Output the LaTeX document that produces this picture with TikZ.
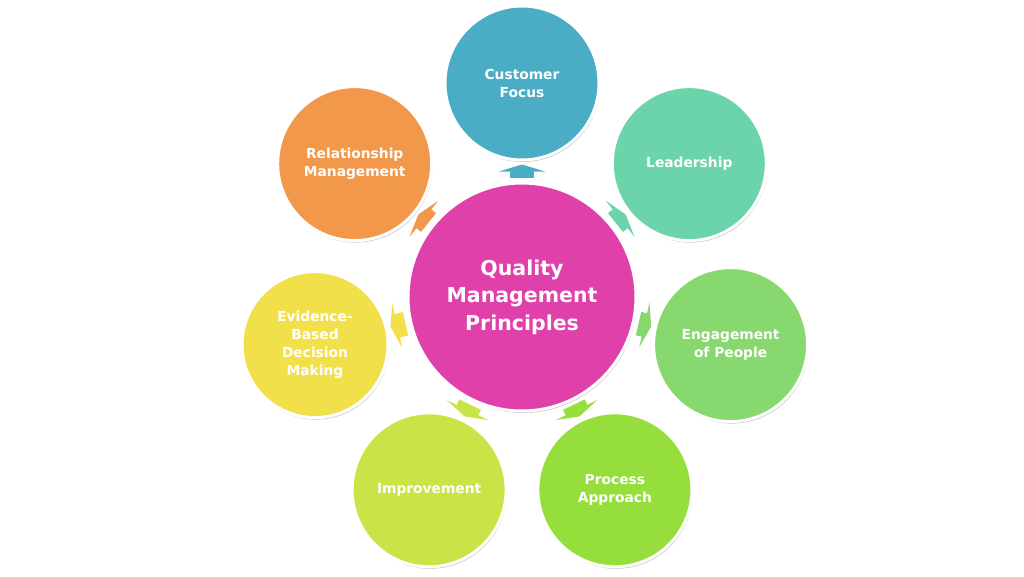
\documentclass[tikz,border=0pt]{standalone}
\usepackage{fontspec}
\setmainfont{DejaVu Sans}
\usetikzlibrary{arrows.meta,shadows}
\definecolor{cCenter}{HTML}{E040AA}
\definecolor{cCust}{HTML}{4BACC6}
\definecolor{cLead}{HTML}{6CD4AA}
\definecolor{cEng}{HTML}{87D86E}
\definecolor{cProc}{HTML}{96DE3C}
\definecolor{cImp}{HTML}{C8E446}
\definecolor{cEvid}{HTML}{F2E04B}
\definecolor{cRel}{HTML}{F2984A}
\tikzset{
  bubble/.style={circle, draw=white, line width=3pt, inner sep=0pt, minimum size=154pt,
    text=white, align=center, font=\bfseries\fontsize{13.8}{18}\selectfont,
    drop shadow={shadow xshift=1pt, shadow yshift=-2pt, fill=black!40, opacity=0.55}},
  hub/.style={bubble, minimum size=228pt, font=\bfseries\fontsize{20.5}{27.5}\selectfont},
  blockarrow/.style={line width=24pt, shorten <=4pt, shorten >=3pt,
    -{Triangle[length=7pt,width=46pt]}}
}
\begin{document}
\begin{tikzpicture}[x=1pt,y=-1pt]
\useasboundingbox (0,0) rectangle (1024,576);
\node[hub, fill=cCenter] (c) at (522,297) {Quality\\Management\\Principles};
\node[bubble, fill=cCust] (cust) at (522,83) {Customer\\Focus};
\node[bubble, fill=cLead] (lead) at (689.3,163.6) {Leadership};
\node[bubble, fill=cEng] (eng) at (730.6,344.6) {Engagement\\of People};
\node[bubble, fill=cProc] (proc) at (614.9,489.8) {Process\\Approach};
\node[bubble, fill=cImp] (imp) at (429.1,489.8) {Improvement};
\node[bubble, fill=cEvid, minimum size=146pt] (evid) at (315,344.6) {Evidence-\\Based\\Decision\\Making};
\node[bubble, fill=cRel] (rel) at (354.7,163.6) {Relationship\\Management};
\draw[blockarrow, cCust] (c) -- (cust);
\draw[blockarrow, cLead] (c) -- (lead);
\draw[blockarrow, cEng] (c) -- (eng);
\draw[blockarrow, cProc] (c) -- (proc);
\draw[blockarrow, cImp] (c) -- (imp);
\draw[blockarrow, cEvid] (c) -- (evid);
\draw[blockarrow, cRel] (c) -- (rel);
\end{tikzpicture}
\end{document}
